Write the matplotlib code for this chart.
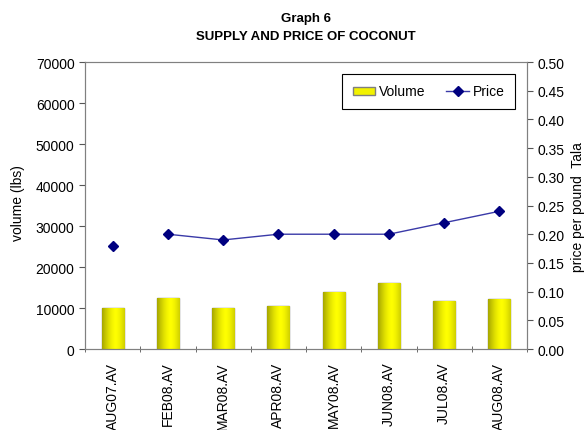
import numpy as np
import matplotlib
matplotlib.use('Agg')
import matplotlib.pyplot as plt
from matplotlib.ticker import FixedLocator

plt.rcParams['font.family'] = ['Liberation Sans', 'DejaVu Sans']

# データ
months = ['AUG07.AV', 'FEB08.AV', 'MAR08.AV', 'APR08.AV',
          'MAY08.AV', 'JUN08.AV', 'JUL08.AV', 'AUG08.AV']
volume = [10000, 12400, 10100, 10400, 13800, 16100, 11600, 12200]
price = [0.18, 0.20, 0.19, 0.20, 0.20, 0.20, 0.22, 0.24]

fig = plt.figure(figsize=(5.85, 4.31), dpi=100)
ax = fig.add_axes([0.1453, 0.1879, 0.7556, 0.6659])
ax2 = ax.twinx()

x = np.arange(len(months))
bars = ax.bar(x, volume, width=0.4, color='#f2f200', edgecolor='#7f7f7f',
              linewidth=1, label='Volume', zorder=2)

# 棒のグラデーション
grad = np.linspace(0, 1, 64)
grad = 1 - 0.35 * (np.abs(grad - 0.6) / 0.6) ** 1.5
img = np.zeros((1, 64, 3))
img[0, :, 0] = grad
img[0, :, 1] = grad
img[0, :, 2] = 0
for b in bars:
    x0, y0 = b.get_x(), b.get_y()
    w, h = b.get_width(), b.get_height()
    im = ax.imshow(img, extent=[x0, x0 + w, y0, y0 + h], aspect='auto', zorder=2.5)
    im.set_clip_path(b)

ax.set_xlim(-0.5, len(months) - 0.5)
ax.set_ylim(0, 70000)
ax.set_yticks(np.arange(0, 70001, 10000))
ax.set_xticks(x)
ax.set_xticklabels(months, rotation=90, fontsize=10)
ax.xaxis.set_minor_locator(FixedLocator(np.arange(-0.5, len(months), 1)))
ax.tick_params(axis='x', which='major', length=0, pad=9)
ax.tick_params(axis='x', which='minor', length=5, direction='inout', color='#555555')
ax.tick_params(axis='y', labelsize=10, length=4, color='#555555')
fig.text(0.031, 0.529, 'volume (lbs)', rotation=90, fontsize=10,
         ha='center', va='center')

# 価格（AUG07は線で結ばれていない）
ax2.plot(x[1:], price[1:], color='#3a3aa8', linewidth=1, marker='D',
         markersize=5, markerfacecolor='#000080', markeredgecolor='#000080',
         label='Price', zorder=3)
ax2.plot(x[:1], price[:1], linestyle='none', marker='D', markersize=5,
         color='#000080', zorder=3)
ax2.set_ylim(0, 0.5)
ax2.set_yticks(np.arange(0, 0.501, 0.05))
ax2.set_yticklabels([f'{v:.2f}' for v in np.arange(0, 0.501, 0.05)])
ax2.tick_params(axis='y', labelsize=10, length=4, color='#555555')
fig.text(0.988, 0.52, 'price per pound  Tala', rotation=90, fontsize=10,
         ha='center', va='center')

for a in (ax, ax2):
    for s in a.spines.values():
        s.set_color('#808080')
ax.spines['top'].set_color('#a0a0a0')

h1, l1 = ax.get_legend_handles_labels()
h2, l2 = ax2.get_legend_handles_labels()
leg = ax2.legend(h1 + h2, l1 + l2, loc='upper right', ncol=2, fontsize=10,
                 frameon=True, fancybox=False, framealpha=1,
                 bbox_to_anchor=(0.973, 0.958), borderaxespad=0,
                 handlelength=1.6, handleheight=0.5, columnspacing=1.5,
                 borderpad=0.75, handletextpad=0.3)
leg.get_frame().set_edgecolor('#000000')
leg.get_frame().set_linewidth(0.8)

fig.text(0.523, 0.95, 'Graph 6', ha='center', fontsize=9.5, fontweight='bold')
fig.text(0.523, 0.908, 'SUPPLY AND PRICE OF COCONUT', ha='center',
         fontsize=9.5, fontweight='bold')

fig.savefig('out.png', dpi=100)
